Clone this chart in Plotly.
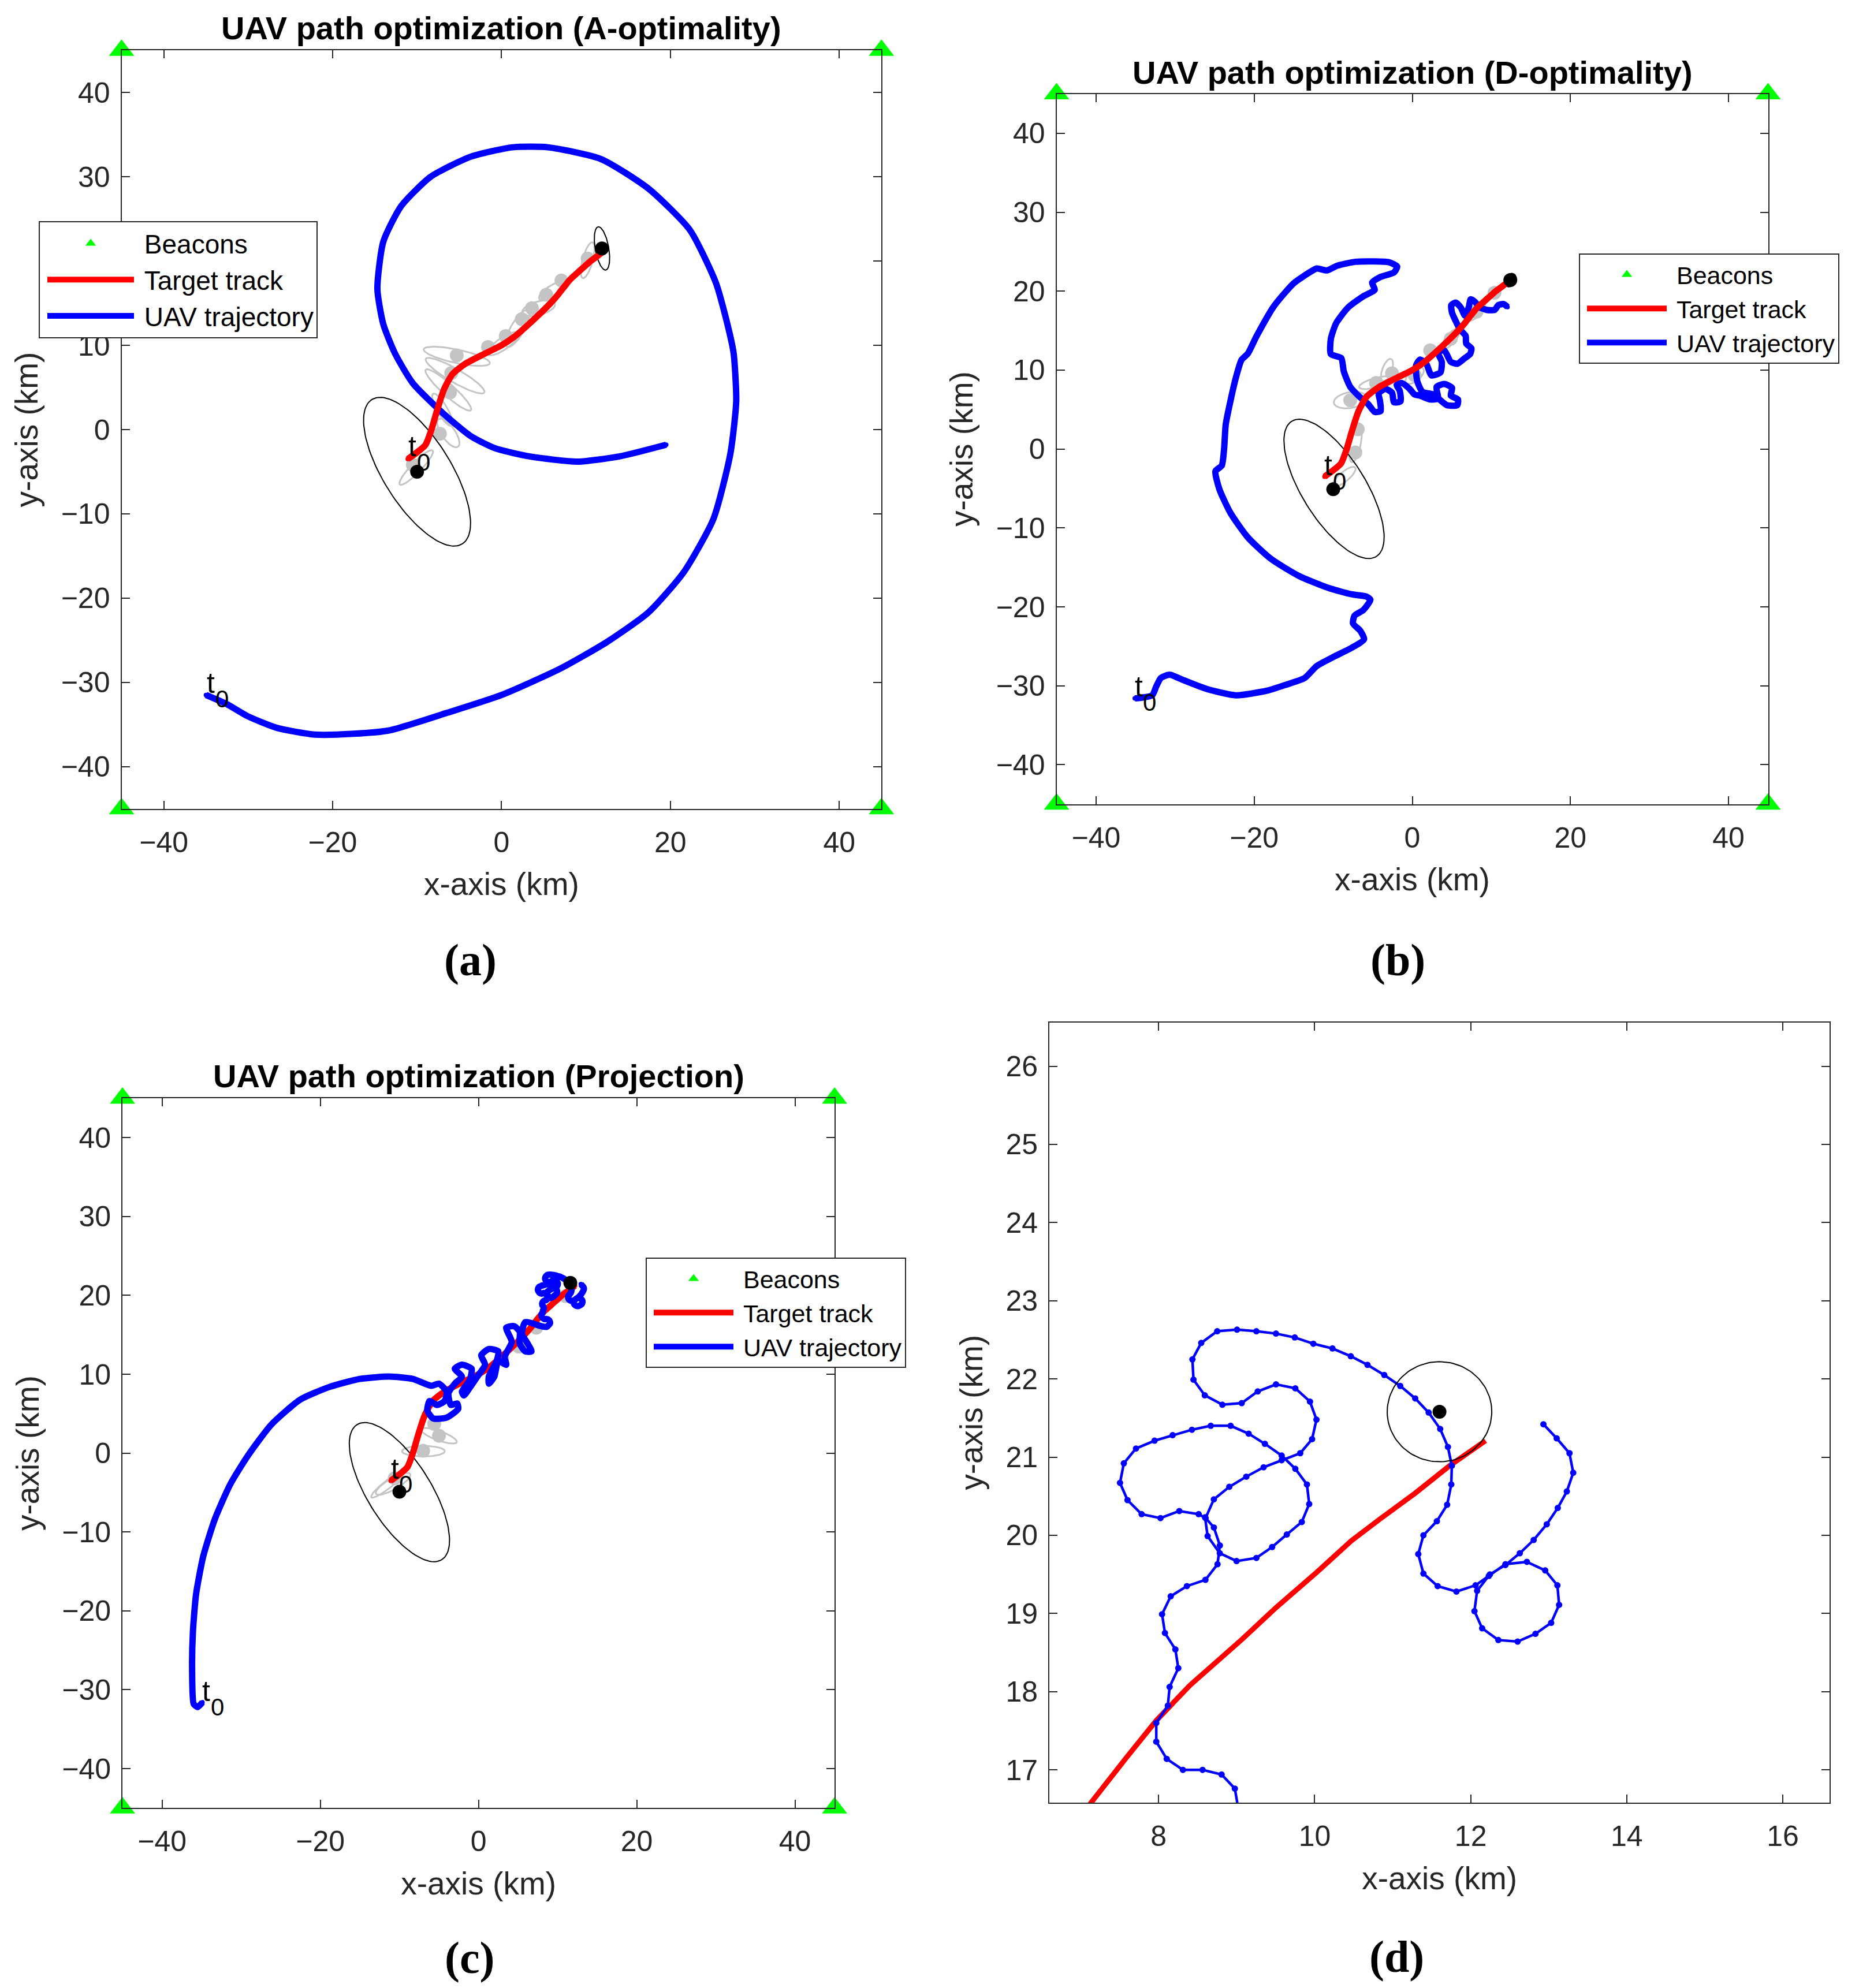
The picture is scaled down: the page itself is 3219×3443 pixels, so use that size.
import numpy as np
import plotly.graph_objects as go

W, H = 3219, 3443
OFF = 8                      # default <body> margin of the written page
FW, FH = W - 2 * OFF, H - 2 * OFF

# ------------------------------------------------------------------ data
beacon_x = [-45, 45, -45, 45]
beacon_y = [45, 45, -45, -45]

# true target track (shared by every panel)
target_x = [-11.1, -10.0, -9.0, -8.3, -7.6, -6.8, -5.8, -4.3, -2.0, 0.0, 1.5, 3.0,
            4.5, 5.8, 6.6, 7.14, 7.59, 7.97, 8.40, 9.07, 9.51, 10.03, 10.47,
            10.84, 11.29, 11.73, 12.19]
target_y = [-3.5, -2.7, -1.8, 0.0, 2.4, 4.8, 6.6, 7.8, 9.0, 10.0, 11.0, 12.3,
            13.7, 15.0, 15.9, 16.6, 17.16, 17.63, 18.08, 18.67, 19.08, 19.53,
            19.93, 20.21, 20.54, 20.89, 21.21]

# (a) A-optimality UAV path
uav_a_x = [-35.0, -32.5, -30.1, -26.6, -22.1, -17.5, -13.3, -6.4, 0.0, 6.9, 12.5,
           17.4, 21.6, 25.1, 27.1, 27.8, 27.5, 27.0, 25.4, 22.3, 17.4, 11.8, 5.5,
           1.3, -3.6, -8.4, -11.9, -14.0, -14.7, -14.0, -12.6, -10.5, -7.0, -3.6,
           -0.8, 3.4, 9.0, 13.9, 19.5]
uav_a_y = [-31.5, -32.6, -34.0, -35.4, -36.2, -36.1, -35.7, -33.6, -31.5, -28.4,
           -25.2, -21.7, -16.9, -10.6, -2.9, 3.4, 9.0, 11.5, 17.4, 23.7, 28.6,
           32.1, 33.5, 33.5, 32.4, 30.0, 26.5, 22.3, 16.7, 12.5, 9.0, 5.5, 2.0,
           -0.8, -2.2, -3.2, -3.8, -3.2, -1.8]

# (b) D-optimality UAV path
uav_b_x = [-35.1, -32.9, -32.4, -31.8, -30.7, -28.9, -26.0, -22.3, -18.3, -16.1,
           -13.6, -12.1, -9.9, -7.7, -6.1, -6.6, -7.5, -7.3, -6.2, -5.3, -5.8,
           -7.7, -10.6, -14.3, -17.9, -20.8, -23.0, -24.4, -24.9, -24.1, -23.8,
           -23.6, -23.0, -22.3, -21.6, -20.8, -19.7, -17.5, -15.0, -12.8,
           -12.09, -10.78, -9.48, -7.20, -4.92, -2.96, -1.91, -2.31, -4.10, -5.08,
           -4.75, -6.22, -8.18, -9.64, -10.30, -10.30, -8.99, -8.66, -7.85, -6.71,
           -5.57, -4.75, -4.00, -4.10, -4.26, -3.45, -2.57, -2.31, -1.49, -1.59,
           -1.98, -1.33, -0.35, 0.30, 0.96, 2.26, 3.24, 3.07, 4.05, 5.03, 4.87,
           5.78, 5.68, 4.38, 3.56, 2.75, 1.28, 0.63, 0.47, 0.96, 1.77, 2.42, 3.56,
           3.73, 3.24, 4.05, 4.87, 5.68, 6.66, 7.31, 7.48, 6.82, 6.75, 6.01, 5.52,
           5.03, 4.93, 5.52, 6.17, 6.66, 7.15, 7.38, 7.97, 8.46, 9.43, 10.41,
           10.90, 11.56, 12.04]
uav_b_y = [-31.6, -31.2, -30.1, -29.0, -28.6, -29.3, -30.4, -31.2, -30.6, -29.9,
           -29.0, -27.5, -26.3, -25.2, -24.1, -23.0, -22.1, -21.1, -20.4, -19.1,
           -18.7, -18.4, -17.6, -16.1, -13.9, -11.2, -8.1, -5.1, -2.8, -2.1, 0.1,
           3.1, 6.1, 9.1, 11.3, 12.1, 14.3, 18.1, 21.0, 22.5,
           22.87, 22.63, 23.23, 23.72, 23.77, 23.67, 23.11, 22.38, 21.77, 21.09,
           20.18, 19.33, 17.87, 15.92, 13.97, 12.02, 11.53, 9.82, 7.87, 6.65,
           5.68, 4.70, 4.82, 6.17, 7.02, 7.63, 7.14, 5.92, 6.04, 7.38, 8.11, 8.36,
           7.63, 6.90, 6.77, 6.28, 6.41, 7.87, 8.24, 7.75, 6.77, 6.28, 5.55, 5.55,
           6.17, 6.90, 7.26, 8.60, 10.55, 11.33, 10.80, 9.33, 9.70, 11.04, 12.26,
           12.50, 11.04, 10.80, 11.53, 12.02, 12.75, 13.36, 14.33, 15.19, 16.16,
           17.26, 18.24, 18.55, 17.87, 16.89, 17.99, 18.97, 18.60, 17.99, 17.62,
           17.62, 18.24, 18.36, 17.99]

# (c) Projection UAV path (its last part is the close-up of panel d)
uav_c_x = [-34.9, -35.5, -36.0, -36.2, -36.1, -35.7, -34.8, -33.3, -31.4, -29.2,
           -26.2, -22.5, -18.8, -15.0, -11.3, -8.3,
           -5.98, -5.0, -4.03, -4.28, -5.25, -6.2, -6.47, -5.74, -4.03, -2.57,
           -2.7, -3.5, -3.8, -3.0, -2.1, -3.0, -2.1, -0.87, -1.1, -2.1, -1.85,
           -1.1, -0.15, 0.83, 0.34, 1.3, 2.5, 2.3, 1.3, 1.3, 2.0, 2.5, 3.5, 3.3,
           4.2, 3.5, 4.5, 5.2, 5.2, 5.9, 6.7, 6.2, 5.5, 5.9, 7.9, 8.6,
           9.03, 8.977, 8.807, 8.563, 8.311, 8.104, 7.970, 7.970, 8.118, 8.141,
           8.252, 8.215, 8.081, 8.044, 8.155, 8.363, 8.600, 8.755, 8.785, 8.708,
           8.595, 8.628, 8.784, 8.999, 9.253, 9.455, 9.643, 9.835, 9.930, 9.901,
           9.752, 9.577, 9.362, 9.154, 8.923, 8.668, 8.427, 8.179, 7.948, 7.710,
           7.554, 7.505, 7.601, 7.782, 8.024, 8.265, 8.513, 8.602, 8.708, 8.906,
           9.124, 9.346, 9.577, 9.815, 9.967, 10.023, 9.940, 9.752, 9.504, 9.270,
           9.065, 8.817, 8.592, 8.447, 8.433, 8.546, 8.751, 9.005, 9.253, 9.504,
           9.745, 9.983, 10.228, 10.463, 10.677, 10.892, 11.097, 11.289, 11.461,
           11.609, 11.708, 11.758, 11.751, 11.698, 11.566, 11.394, 11.328, 11.394,
           11.576, 11.817, 12.062, 12.232, 12.445, 12.720, 12.955, 13.111, 13.133,
           13.031, 12.830, 12.601, 12.354, 12.147, 12.048, 12.082, 12.246, 12.445,
           12.629, 12.807, 12.975, 13.116, 13.232, 13.314, 13.266, 13.102, 12.932]
uav_c_y = [-31.6, -32.2, -31.8, -27.4, -22.7, -17.9, -13.1, -8.3, -4.0, -0.4, 3.6,
           6.8, 8.4, 9.4, 9.7, 9.4,
           8.54, 8.8, 7.8, 6.6, 6.1, 6.6, 5.4, 4.4, 4.5, 5.6, 6.3, 6.1, 7.6, 8.8,
           9.7, 10.7, 11.2, 10.7, 9.3, 7.8, 7.3, 8.3, 9.7, 11.2, 12.4, 13.2, 12.9,
           11.7, 9.7, 8.8, 9.7, 11.7, 11.2, 12.2, 14.1, 15.9, 16.1, 15.4, 13.9,
           12.9, 12.9, 13.9, 15.1, 16.6, 16.1, 16.0,
           16.45, 16.76, 16.94, 17.0, 17.0, 17.14, 17.36, 17.60, 17.82, 18.06,
           18.30, 18.54, 18.75, 18.99, 19.22, 19.35, 19.43, 19.63, 19.87, 20.10,
           20.23, 19.99, 19.77, 19.67, 19.71, 19.85, 20.01, 20.17, 20.40, 20.65,
           20.85, 21.02, 21.17, 21.30, 21.40, 21.40, 21.35, 21.28, 21.21, 21.11,
           20.92, 20.67, 20.45, 20.27, 20.22, 20.31, 20.27, 20.22, 20.46, 20.62,
           20.75, 20.87, 20.96, 21.05, 21.23, 21.48, 21.71, 21.88, 21.93, 21.84,
           21.69, 21.67, 21.79, 21.99, 22.25, 22.46, 22.61, 22.63, 22.61, 22.58,
           22.53, 22.45, 22.39, 22.29, 22.18, 22.05, 21.91, 21.75, 21.57, 21.36,
           21.13, 20.89, 20.65, 20.39, 20.18, 20.00, 19.76, 19.51, 19.35, 19.28,
           19.36, 19.48, 19.63, 19.66, 19.55, 19.36, 19.11, 18.88, 18.74, 18.64,
           18.66, 18.81, 19.03, 19.29, 19.50, 19.62, 19.77, 19.94, 20.14, 20.35,
           20.56, 20.80, 21.05, 21.24, 21.42]

# target estimates (start, end) per panel
est_a_x, est_a_y = [-10.0, 11.9], [-5.0, 21.5]
est_b_x, est_b_y = [-10.0, 12.4], [-5.1, 21.4]
est_c_x, est_c_y = [-10.0, 11.6], [-4.9, 21.58]

# covariance ellipses: [cx, cy, semi-major, semi-minor, angle deg]
cov_a = [[-10.0, -5.0, 10.1, 4.0, -58], [11.9, 21.5, 2.6, 0.8, 100]]
cov_b = [[-9.9, -5.05, 10.1, 4.0, -58], [12.4, 21.4, 0.9, 0.7, 60]]
cov_c = [[-10.0, -4.95, 10.1, 4.0, -58], [11.6, 21.58, 0.67, 0.64, 0]]

gray_a = [[-5.3, 8.7, 4.0, 0.8, -12], [-5.5, 6.4, 4.0, 0.8, -30],
          [-6.3, 4.7, 3.6, 0.7, -42], [-7.0, 2.35, 2.2, 0.6, -60],
          [-6.3, -0.4, 2.0, 0.8, -55], [-10.1, -4.5, 2.8, 0.6, 46],
          [0.2, 10.2, 2.2, 0.7, 35], [1.9, 12.0, 2.5, 0.8, 60],
          [4.4, 14.4, 2.0, 0.8, 15], [6.2, 16.5, 2.0, 0.7, 30],
          [10.2, 20.1, 2.2, 0.6, 75]]
gray_dot_a_x = [-5.3, -5.95, -6.1, -7.3, -1.6, 0.5, 2.4, 3.6, 5.3, 7.1, 10.2, -10.5]
gray_dot_a_y = [8.8, 6.7, 4.4, -0.5, 9.8, 11.1, 13.1, 14.4, 16.0, 17.7, 20.3, -4.2]

gray_b = [[-7.85, 6.2, 2.1, 1.0, 10], [-4.6, 8.4, 2.2, 0.6, 15],
          [-3.2, 10.0, 1.5, 0.6, 70], [0.3, 9.3, 1.4, 0.7, 40],
          [-7.2, 0.8, 2.5, 0.7, 80], [-8.6, -3.5, 1.8, 0.6, 40],
          [4.9, 14.0, 1.6, 0.6, 50], [8.1, 17.4, 1.5, 0.6, 45]]
gray_dot_b_x = [-7.85, -4.59, -2.57, 0.3, 2.26, 4.87, 8.13, 10.4, -7.2, -6.9]
gray_dot_b_y = [6.17, 8.36, 9.6, 9.33, 12.5, 13.97, 17.4, 19.8, -0.42, 2.5]

gray_c = [[-6.96, 0.24, 2.7, 0.67, 0], [-5.0, 2.2, 2.4, 0.6, -20],
          [-10.8, -3.9, 2.5, 0.7, 30], [-11.5, -4.0, 2.6, 0.5, 38]]
gray_dot_c_x = [-5.0, -5.6, -7.0, -10.6, 5.1, 7.3, 11.0, 3.0]
gray_dot_c_y = [2.2, 3.7, 0.3, -3.2, 13.5, 15.9, 19.9, 12.0]

x_ticks_big = [-40, -20, 0, 20, 40]
y_ticks_big = [-40, -30, -20, -10, 0, 10, 20, 30, 40]
x_ticks_d = [8, 10, 12, 14, 16]
y_ticks_d = [17, 18, 19, 20, 21, 22, 23, 24, 25, 26]

NBSP = "\u00a0"
legend_names = ["Beacons", "Target track", "UAV trajectory"]

# ------------------------------------------------------------------ helpers
SANS = "Liberation Sans, Arial, sans-serif"
BLUE, RED, GREEN = "#0000ff", "#ff0000", "#00ff00"
GRAY = "#c4c4c4"


def pxx(p):
    return (p - OFF) / FW


def pxy(p):
    return 1 - (p - OFF) / FH


def ellipse_xy(params, n=120):
    xs, ys = [], []
    t = np.linspace(0, 2 * np.pi, n)
    for cx, cy, a, b, ang in params:
        th = np.deg2rad(ang)
        xs += list(cx + a * np.cos(t) * np.cos(th) - b * np.sin(t) * np.sin(th)) + [None]
        ys += list(cy + a * np.cos(t) * np.sin(th) + b * np.sin(t) * np.cos(th)) + [None]
    return xs, ys


fig = go.Figure()


def add_panel(k, legend, uav_x, uav_y, est_x, est_y, cov, gray, gdx, gdy,
              red_on_top, lw=11):
    xa, ya = f"x{k}" if k > 1 else "x", f"y{k}" if k > 1 else "y"
    gx, gy = ellipse_xy(gray)
    fig.add_trace(go.Scatter(x=gx, y=gy, mode="lines", line=dict(color=GRAY, width=3),
                             xaxis=xa, yaxis=ya, showlegend=False, hoverinfo="skip"))
    fig.add_trace(go.Scatter(x=gdx, y=gdy, mode="markers", marker=dict(color=GRAY, size=24),
                             xaxis=xa, yaxis=ya, showlegend=False, hoverinfo="skip"))
    cx, cy = ellipse_xy(cov)
    fig.add_trace(go.Scatter(x=cx, y=cy, mode="lines", line=dict(color="black", width=2),
                             xaxis=xa, yaxis=ya, showlegend=False, hoverinfo="skip"))
    uav = go.Scatter(x=uav_x, y=uav_y, mode="lines+markers", name=NBSP + legend_names[2],
                     line=dict(color=BLUE, width=lw, shape="spline", smoothing=0.6),
                     marker=dict(color=BLUE, size=8), xaxis=xa, yaxis=ya,
                     legend=legend, legendrank=3)
    tgt = go.Scatter(x=target_x, y=target_y, mode="lines+markers", name=NBSP + legend_names[1],
                     line=dict(color=RED, width=lw, shape="spline", smoothing=0.6),
                     marker=dict(color=RED, size=8), xaxis=xa, yaxis=ya,
                     legend=legend, legendrank=2)
    if red_on_top:
        fig.add_trace(uav); fig.add_trace(tgt)
    else:
        fig.add_trace(tgt); fig.add_trace(uav)
    fig.add_trace(go.Scatter(x=est_x, y=est_y, mode="markers",
                             marker=dict(color="black", size=24),
                             xaxis=xa, yaxis=ya, showlegend=False, hoverinfo="skip"))
    fig.add_trace(go.Scatter(x=beacon_x, y=beacon_y, mode="markers", name=NBSP + legend_names[0],
                             marker=dict(symbol="triangle-up", color=GREEN, size=38,
                                         line=dict(width=0)),
                             cliponaxis=False, xaxis=xa, yaxis=ya,
                             legend=legend, legendrank=1))


add_panel(1, "legend", uav_a_x, uav_a_y, est_a_x, est_a_y, cov_a, gray_a,
          gray_dot_a_x, gray_dot_a_y, True)
add_panel(2, "legend2", uav_b_x, uav_b_y, est_b_x, est_b_y, cov_b, gray_b,
          gray_dot_b_x, gray_dot_b_y, True)
add_panel(3, "legend3", uav_c_x, uav_c_y, est_c_x, est_c_y, cov_c, gray_c,
          gray_dot_c_x, gray_dot_c_y, False)

# (d) close-up of panel (c)
fig.add_trace(go.Scatter(x=target_x, y=target_y, mode="lines", line=dict(color=RED, width=9),
                         xaxis="x4", yaxis="y4", showlegend=False))
fig.add_trace(go.Scatter(x=uav_c_x, y=uav_c_y, mode="lines+markers",
                         line=dict(color=BLUE, width=4.5), marker=dict(color=BLUE, size=11),
                         xaxis="x4", yaxis="y4", showlegend=False))
dcx, dcy = ellipse_xy([cov_c[1]])
fig.add_trace(go.Scatter(x=dcx, y=dcy, mode="lines", line=dict(color="black", width=2),
                         xaxis="x4", yaxis="y4", showlegend=False))
fig.add_trace(go.Scatter(x=[est_c_x[1]], y=[est_c_y[1]], mode="markers",
                         marker=dict(color="black", size=24),
                         xaxis="x4", yaxis="y4", showlegend=False))

# ------------------------------------------------------------------ axes
axis_common = dict(showline=True, linecolor="#262626", linewidth=2, mirror="ticks",
                   ticks="inside", ticklen=14, tickwidth=2, tickcolor="#262626",
                   showgrid=False, zeroline=False, automargin=False,
                   tickfont=dict(family=SANS, size=50, color="#262626"))
xt = dict(text="x-axis (km)", font=dict(family=SANS, size=55, color="#262626"), standoff=26)
yt = dict(text="y-axis (km)", font=dict(family=SANS, size=55, color="#262626"), standoff=22)

# (left, right, top, bottom) of each plot box in page pixels
panels = {
    1: ((210.5, 1526.3, 87.3, 1400.7), [-45, 45], [-45, 45], x_ticks_big, y_ticks_big),
    2: ((1829.5, 3061.5, 162.5, 1392.8), [-45, 45], [-45, 45], x_ticks_big, y_ticks_big),
    3: ((212.1, 1445.1, 1901.9, 3131.3), [-45, 45], [-45, 45], x_ticks_big, y_ticks_big),
    4: ((1817.1, 3168.1, 1770.7, 3122.0), [6.6, 16.6], [16.58, 26.56], x_ticks_d, y_ticks_d),
}
lay = {}
for k, ((l, r, t, b), rx, ry, tx, ty) in panels.items():
    sx = "" if k == 1 else str(k)
    lay[f"xaxis{sx}"] = dict(axis_common, domain=[pxx(l), pxx(r)], range=rx, tickvals=tx,
                             anchor=f"y{sx}", title=xt, ticklabelstandoff=13)
    lay[f"yaxis{sx}"] = dict(axis_common, domain=[pxy(b), pxy(t)], range=ry, tickvals=ty,
                             anchor=f"x{sx}", title=yt, ticklabelstandoff=8)

leg_common = dict(xanchor="left", yanchor="top", bgcolor="white", bordercolor="#262626",
                  borderwidth=2, tracegroupgap=0)
lay["legend"] = dict(leg_common, x=pxx(67), y=pxy(383), itemwidth=150, indentation=8,
                     font=dict(family=SANS, size=46, color="black"))
lay["legend2"] = dict(leg_common, x=pxx(2734), y=pxy(439), itemwidth=138, indentation=7,
                      font=dict(family=SANS, size=43, color="black"))
lay["legend3"] = dict(leg_common, x=pxx(1118), y=pxy(2178), itemwidth=138, indentation=7,
                      font=dict(family=SANS, size=43, color="black"))

annotations = []
titles = [("UAV path optimization (A-optimality)", 868.4, 49),
          ("UAV path optimization (D-optimality)", 2445.5, 126),
          ("UAV path optimization (Projection)", 828.6, 1863)]
for txt, px, py in titles:
    annotations.append(dict(text=txt, x=pxx(px), y=pxy(py), xref="paper", yref="paper",
                            showarrow=False, xanchor="center", yanchor="middle",
                            font=dict(family=SANS, size=56, color="black", weight="bold")))
labels = [("(a)", 815, 1662), ("(b)", 2420, 1662), ("(c)", 813, 3390), ("(d)", 2418, 3388)]
for txt, px, py in labels:
    annotations.append(dict(text=txt, x=pxx(px), y=pxy(py), xref="paper", yref="paper",
                            showarrow=False, xanchor="center", yanchor="middle",
                            font=dict(family="Liberation Serif, Times New Roman, serif",
                                      size=78, color="black", weight="bold")))
# "t" with subscript "0" at the start of each path
t0_marks = [("x", "y", -34.4, -30.1), ("x", "y", -10.56, -2.0),
            ("x2", "y2", -34.6, -30.1), ("x2", "y2", -10.6, -2.1),
            ("x3", "y3", -34.4, -30.2), ("x3", "y3", -10.57, -2.0)]
for xr, yr, tx0, ty0 in t0_marks:
    annotations.append(dict(text="t", x=tx0, y=ty0, xref=xr, yref=yr,
                            showarrow=False, xanchor="center", yanchor="middle",
                            font=dict(family=SANS, size=50, color="black")))
    annotations.append(dict(text="0", x=tx0, y=ty0, xref=xr, yref=yr, xshift=19, yshift=-27,
                            showarrow=False, xanchor="center", yanchor="middle",
                            font=dict(family=SANS, size=42, color="black")))

fig.update_layout(width=FW, height=FH, margin=dict(l=0, r=0, t=0, b=0),
                  paper_bgcolor="white", plot_bgcolor="white", showlegend=True,
                  annotations=annotations, **lay)

fig.write_html("out.html")
